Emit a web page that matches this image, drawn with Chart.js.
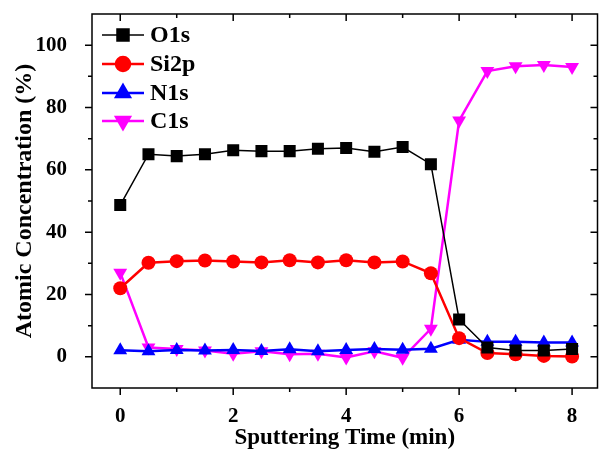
<!DOCTYPE html>
<html>
<head>
<meta charset="utf-8">
<script src="https://cdn.jsdelivr.net/npm/chart.js@4.4.0/dist/chart.umd.min.js"></script>
<style>
  html, body { margin: 0; padding: 0; background: #fff; }
  #wrap { width: 606px; height: 452px; }
</style>
</head>
<body>
<div id="wrap"><canvas id="depth"></canvas></div>
<script>
// sputtering time (min)
const times = [0, 0.5, 1, 1.5, 2, 2.5, 3, 3.5, 4, 4.5, 5, 5.5, 6, 6.5, 7, 7.5, 8];
const o1s  = [48.7, 65, 64.4, 65, 66.3, 66, 66, 66.8, 67, 65.8, 67.3, 61.8, 12, 3, 2, 2, 2.5];
const si2p = [22, 30.2, 30.7, 30.9, 30.6, 30.3, 31, 30.3, 31, 30.3, 30.6, 26.8, 6, 1.2, 0.8, 0.3, 0.1];
const n1s  = [2.1, 1.8, 2.2, 2, 2.2, 1.9, 2.4, 1.8, 2.2, 2.5, 2.3, 2.6, 5.5, 4.8, 4.8, 4.6, 4.6];
const c1s  = [27, 3, 2.5, 2, 1, 1.8, 0.8, 1, -0.2, 1.8, -0.3, 9, 75.8, 91.7, 93.2, 93.6, 93];

const xTicks = [0, 2, 4, 6, 8];
const yTicks = [0, 20, 40, 60, 80, 100];

const serif = "'Liberation Serif', 'Times New Roman', serif";

function pts(ys) {
  return times.map((t, i) => ({ x: t, y: ys[i] }));
}

// frame + inward/outward ticks like the origin plot
const framePlugin = {
  id: 'frame',
  afterDraw(chart) {
    const { ctx, chartArea: a, scales } = chart;
    const x = scales.x, y = scales.y;
    ctx.save();
    ctx.strokeStyle = '#000';
    ctx.lineWidth = 1.5;
    ctx.strokeRect(a.left, a.top, a.right - a.left, a.bottom - a.top);
    ctx.beginPath();
    for (let v = 0; v <= 8; v += 1) {
      const px = x.getPixelForValue(v);
      const len = v % 2 === 0 ? 7 : 4;
      ctx.moveTo(px, a.bottom); ctx.lineTo(px, a.bottom + len);
      ctx.moveTo(px, a.top); ctx.lineTo(px, a.top + len);
    }
    for (let v = -10; v <= 110; v += 10) {
      const py = y.getPixelForValue(v);
      if (py < a.top + 1 || py > a.bottom - 1) continue;
      const len = v % 20 === 0 ? 7 : 4;
      ctx.moveTo(a.left, py); ctx.lineTo(a.left - len, py);
      ctx.moveTo(a.right, py); ctx.lineTo(a.right - len, py);
    }
    ctx.stroke();

    // legend
    const rows = [35, 64, 93, 121];
    chart.data.datasets.forEach((ds, i) => {
      const cy = rows[i];
      ctx.strokeStyle = ds.borderColor;
      ctx.lineWidth = ds.borderWidth;
      ctx.beginPath();
      ctx.moveTo(102, cy); ctx.lineTo(144, cy);
      ctx.stroke();
      Chart.helpers.drawPoint(ctx, {
        pointStyle: ds.pointStyle,
        radius: ds.pointRadius,
        rotation: ds.pointRotation || 0,
        borderWidth: 1
      }, 123, cy);
      ctx.fillStyle = ds.pointBackgroundColor;
      ctx.fill();
      ctx.fillStyle = '#000';
      ctx.font = 'bold 24px ' + serif;
      ctx.textBaseline = 'middle';
      ctx.fillText(ds.label, 150, cy + 1);
    });
    ctx.restore();
  }
};

function noPad(s) {
  s.paddingTop = 0; s.paddingBottom = 0;
  s.paddingLeft = 0; s.paddingRight = 0;
}

const cfg = {
  type: 'line',
  data: {
    datasets: [
      {
        label: 'O1s',
        data: pts(o1s),
        borderColor: '#000',
        borderWidth: 1.5,
        pointStyle: 'rect',
        pointRadius: 8.5,
        pointBackgroundColor: '#000',
        pointBorderColor: '#000',
        pointBorderWidth: 0
      },
      {
        label: 'Si2p',
        data: pts(si2p),
        borderColor: '#ff0000',
        borderWidth: 2.5,
        pointStyle: 'circle',
        pointRadius: 7,
        pointBackgroundColor: '#ff0000',
        pointBorderColor: '#ff0000',
        pointBorderWidth: 0
      },
      {
        label: 'N1s',
        data: pts(n1s),
        borderColor: '#0000ff',
        borderWidth: 2.5,
        pointStyle: 'triangle',
        pointRadius: 8,
        pointBackgroundColor: '#0000ff',
        pointBorderColor: '#0000ff',
        pointBorderWidth: 0
      },
      {
        label: 'C1s',
        data: pts(c1s),
        borderColor: '#ff00ff',
        borderWidth: 2.5,
        pointStyle: 'triangle',
        pointRotation: 180,
        pointRadius: 8,
        pointBackgroundColor: '#ff00ff',
        pointBorderColor: '#ff00ff',
        pointBorderWidth: 0
      }
    ]
  },
  options: {
    responsive: true,
    maintainAspectRatio: false,
    animation: false,
    layout: { padding: { top: 14, right: 8, left: 10, bottom: 0 } },
    plugins: {
      legend: { display: false },
      tooltip: { enabled: false }
    },
    elements: { line: { tension: 0 } },
    scales: {
      x: {
        type: 'linear',
        min: -0.5,
        max: 8.45,
        afterFit: s => { s.height = 64; noPad(s); },
        afterBuildTicks: s => { s.ticks = xTicks.map(v => ({ value: v })); },
        grid: { display: false },
        border: { display: false },
        ticks: {
          padding: 8,
          color: '#000',
          font: { family: serif, size: 21, weight: 'bold' }
        },
        title: {
          display: true,
          text: 'Sputtering Time (min)',
          color: '#000',
          padding: { top: 0, bottom: 0 },
          font: { family: serif, size: 23, weight: 'bold' }
        }
      },
      y: {
        min: -10,
        max: 110,
        afterFit: s => { s.width = 82; noPad(s); },
        afterBuildTicks: s => { s.ticks = yTicks.map(v => ({ value: v })); },
        grid: { display: false },
        border: { display: false },
        ticks: {
          padding: 17,
          color: '#000',
          font: { family: serif, size: 21, weight: 'bold' }
        },
        title: {
          display: true,
          text: 'Atomic Concentration (%)',
          color: '#000',
          padding: { top: 0, bottom: 4 },
          font: { family: serif, size: 24, weight: 'bold' }
        }
      }
    }
  },
  plugins: [framePlugin]
};

new Chart(document.getElementById('depth'), cfg);
</script>
</body>
</html>
